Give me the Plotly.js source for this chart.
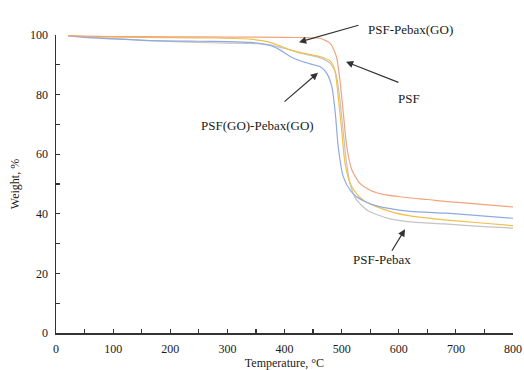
<!DOCTYPE html>
<html>
<head>
<meta charset="utf-8">
<script src="https://cdn.plot.ly/plotly-3.0.1.min.js"></script>
<style>html,body{margin:0;padding:0;background:#fff;}#chart{width:524px;height:370px;}</style>
</head>
<body>
<div id="chart"></div>
<script>
// Temperature (°C) and weight (%) readings for each membrane
const psfT = [21, 50, 100, 200, 300, 400, 440, 462, 480, 491, 497, 503, 509, 518, 532, 550, 573, 600, 620, 650, 684, 720, 760, 800];
const psfW = [99.8, 99.6, 99.5, 99.4, 99.3, 99.2, 99.1, 98.9, 97.2, 92.7, 84.9, 73.7, 62.5, 54.7, 50.2, 47.9, 46.5, 45.8, 45.3, 44.8, 44.1, 43.6, 42.9, 42.3];

const psfPebaxGoT = [21, 50, 100, 200, 282, 340, 370, 390, 410, 445, 462, 480, 488, 494, 500, 506, 515, 526, 540, 560, 590, 620, 684, 740, 800];
const psfPebaxGoW = [99.8, 99.5, 99.3, 99.1, 99.0, 98.6, 97.8, 96.5, 95.0, 93.4, 92.8, 91.3, 88.3, 79.3, 68.1, 56.9, 50.2, 46.8, 44.3, 42.5, 40.5, 39.3, 37.9, 37.0, 36.0];

const psfGoPebaxGoT = [21, 50, 100, 165, 250, 300, 340, 375, 392, 410, 430, 445, 462, 474, 483, 489, 494, 503, 515, 526, 540, 555, 580, 620, 684, 740, 800];
const psfGoPebaxGoW = [99.8, 99.2, 98.7, 98.1, 97.9, 97.8, 97.5, 96.5, 95.0, 92.8, 91.2, 90.3, 89.4, 87.1, 82.6, 73.7, 62.5, 52.4, 47.9, 45.7, 44.2, 43.0, 41.9, 40.8, 40.2, 39.4, 38.5];

const psfPebaxT = [21, 50, 100, 165, 250, 300, 340, 370, 400, 430, 460, 480, 490, 496, 502, 508, 515, 525, 544, 565, 585, 620, 680, 740, 800];
const psfPebaxW = [99.8, 99.4, 98.8, 98.1, 97.5, 97.3, 97.2, 96.8, 95.5, 93.8, 92.5, 90.5, 87.0, 80.0, 69.0, 58.0, 50.0, 45.0, 41.3, 39.5, 38.3, 37.3, 36.6, 35.8, 35.2];

const seriesNames = ['PSF-Pebax', 'PSF-Pebax(GO)', 'PSF(GO)-Pebax(GO)', 'PSF'];
const xTicks = [0, 100, 200, 300, 400, 500, 600, 700, 800];
const yTicks = [0, 20, 40, 60, 80, 100];

const mk = (x, y, name, color) => ({
  x: x, y: y, name: name, type: 'scatter', mode: 'lines',
  line: {color: color, width: 1.2, shape: 'spline', smoothing: 0.6},
  hoverinfo: 'skip'
});

const data = [
  mk(psfPebaxT, psfPebaxW, seriesNames[0], '#c4c4c4'),
  mk(psfPebaxGoT, psfPebaxGoW, seriesNames[1], '#f2c04c'),
  mk(psfGoPebaxGoT, psfGoPebaxGoW, seriesNames[2], '#8eabdf'),
  mk(psfT, psfW, seriesNames[3], '#f0a47e')
];

const serif = 'Liberation Serif';
const arrow = (x, y, ax, ay) => ({
  x: x, y: y, ax: ax, ay: ay, xref: 'x', yref: 'y', axref: 'x', ayref: 'y',
  text: '', showarrow: true, arrowhead: 2, arrowsize: 1.2, arrowwidth: 1.2, arrowcolor: '#333333'
});
const label = (x, y, t, yref) => ({
  x: x, y: y, xref: 'x', yref: yref || 'y', text: t, showarrow: false,
  font: {family: serif, size: 13, color: '#1a1a1a'}
});

const annotations = [
  arrow(425.4, 97.6, 532, 103.4), label(621, 1.05, seriesNames[1], 'paper'),
  arrow(507.7, 91.0, 602, 83.9), label(618, 78.8, seriesNames[3]),
  arrow(458.6, 87.3, 397.4, 77.2), label(351.9, 69.8, seriesNames[2]),
  arrow(611, 34.8, 586.4, 27.1), label(570.7, 24.6, seriesNames[0])
];

const axisFont = {family: serif, size: 12, color: '#1a1a1a'};

const layout = {
  width: 524, height: 370,
  margin: {l: 56, r: 11, t: 35, b: 37},
  paper_bgcolor: '#fff', plot_bgcolor: '#fff',
  showlegend: false,
  font: axisFont,
  annotations: annotations,
  xaxis: {
    range: [0, 800], tickvals: xTicks, ticktext: xTicks.map(String),
    showgrid: false, zeroline: false, showline: true, linecolor: '#333', linewidth: 1.5,
    ticks: 'inside', ticklen: 4, tickwidth: 1.2, tickcolor: '#333',
    minor: {dtick: 50, tick0: 0, ticks: 'inside', ticklen: 4, tickwidth: 1.2, tickcolor: '#333', showgrid: false},
    tickfont: axisFont, ticklabelstandoff: 4,
    title: {text: 'Temperature, °C', font: axisFont, standoff: 3}
  },
  yaxis: {
    range: [0, 100], tickvals: yTicks, ticktext: yTicks.map(String),
    showgrid: false, zeroline: false, showline: true, linecolor: '#333', linewidth: 1.5,
    ticks: 'inside', ticklen: 4, tickwidth: 1.2, tickcolor: '#333',
    minor: {dtick: 10, tick0: 0, ticks: 'inside', ticklen: 4, tickwidth: 1.2, tickcolor: '#333', showgrid: false},
    tickfont: axisFont, ticklabelstandoff: 4,
    title: {text: 'Weight, %', font: axisFont, standoff: 8}
  }
};

Plotly.newPlot('chart', data, layout, {displayModeBar: false, staticPlot: true});
</script>
</body>
</html>
